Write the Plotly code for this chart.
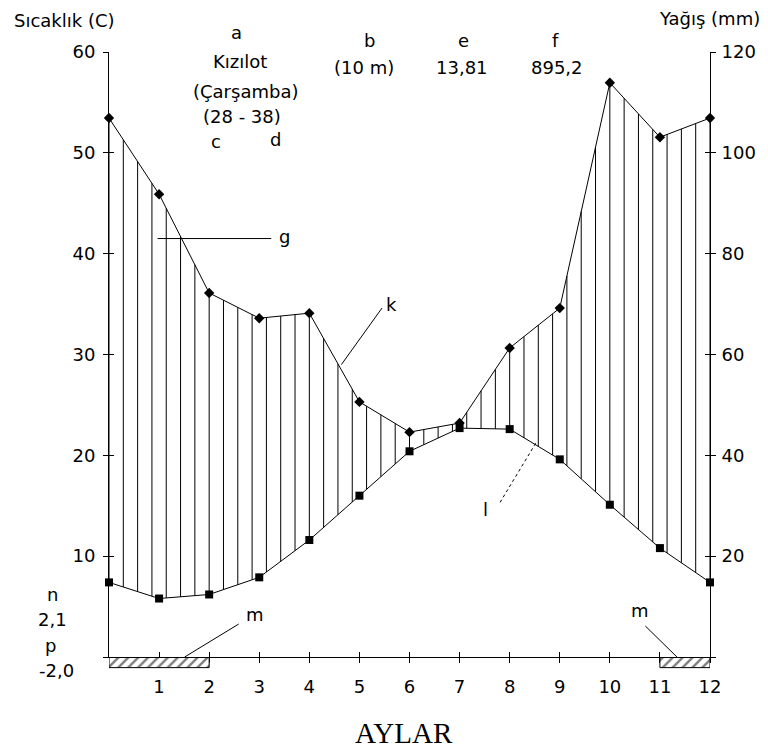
import numpy as np
import plotly.graph_objects as go

# ---------------- data ----------------
months = list(range(1, 13))
month_labels = [str(m) for m in months]
temperature = [5.8, 6.2, 7.9, 11.6, 16.0, 20.4, 22.7, 22.6, 19.6, 15.1, 10.8, 7.4]        # deg C
precipitation = [91.8, 72.2, 67.2, 68.2, 50.6, 44.6, 46.4, 61.3, 69.2, 113.9, 103.1, 106.9]  # mm
frost_months = [1, 2, 12]
temp_ticks = [0, 10, 20, 30, 40, 50, 60]
temp_tick_labels = ["", "10", "20", "30", "40", "50", "60"]
precip_ticks = [0, 20, 40, 60, 80, 100, 120]
precip_tick_labels = ["", "20", "40", "60", "80", "100", "120"]
MM_PER_DEG = 2  # Walter-Lieth scale ratio

FONT = "DejaVu Sans"
FS = 18

# the diagram starts with December's value at position 0
x_closed = [0] + months
t_closed = [temperature[-1]] + temperature
p_closed = [precipitation[-1]] + precipitation

# vertical hatching of the humid period (in mm units on right axis)
xs = np.linspace(0, 12, 43)
lower = np.interp(xs, x_closed, np.array(t_closed) * MM_PER_DEG)
upper = np.interp(xs, x_closed, p_closed)
hx, hy = [], []
for xv, lo, up in zip(xs, lower, upper):
    if up > lo:
        hx += [xv, xv, None]
        hy += [lo, up, None]

# contiguous frost runs -> one hatched box per run
runs = []
for m in sorted(frost_months):
    if runs and m == runs[-1][1] + 1:
        runs[-1][1] = m
    else:
        runs.append([m, m])
run_centers = [(a - 1 + b) / 2 for a, b in runs]
run_widths = [b - a + 1 for a, b in runs]

fig = go.Figure()

fig.add_trace(go.Scatter(x=hx, y=hy, mode="lines", yaxis="y2",
                         line=dict(color="black", width=1), hoverinfo="skip"))
fig.add_trace(go.Scatter(x=x_closed, y=p_closed, mode="lines+markers", yaxis="y2",
                         line=dict(color="black", width=1), cliponaxis=False,
                         marker=dict(symbol="diamond", size=8, color="black")))
fig.add_trace(go.Scatter(x=x_closed, y=t_closed, mode="lines+markers", yaxis="y",
                         line=dict(color="black", width=1), cliponaxis=False,
                         marker=dict(symbol="square", size=8, color="black")))
# frost months strip
fig.add_trace(go.Bar(x=run_centers, y=[-1.1] * len(runs), width=run_widths, yaxis="y5",
                     marker=dict(color="white", line=dict(color="black", width=1),
                                 pattern=dict(shape="/", fgcolor="black", bgcolor="white",
                                              size=7, solidity=0.35))))
# carriers for the inner halves of the ticks
fig.add_trace(go.Scatter(x=[0], y=[0], xaxis="x2", yaxis="y", mode="lines",
                         line=dict(width=0), hoverinfo="skip"))
fig.add_trace(go.Scatter(x=[0], y=[0], yaxis="y3", mode="lines",
                         line=dict(width=0), hoverinfo="skip"))
fig.add_trace(go.Scatter(x=[0], y=[0], yaxis="y4", mode="lines",
                         line=dict(width=0), hoverinfo="skip"))

OFF = 8  # page body margin
W, H = 768 - OFF, 755 - OFF
L, T = 109 - OFF, 52 - OFF
R = W - (712 - OFF)
B = H - (669 - OFF)
PW, PH = W - L - R, H - T - B
d = 12 / PH

tick_common = dict(tickwidth=1, tickcolor="black", ticklen=5, showgrid=False,
                   zeroline=False, tickfont=dict(family=FONT, size=FS, color="black"))

fig.update_layout(
    width=W, height=H,
    margin=dict(l=L, r=R, t=T, b=B, pad=0),
    paper_bgcolor="white", plot_bgcolor="white", showlegend=False,
    font=dict(family=FONT, size=FS, color="black"),
    xaxis=dict(domain=[0, 1], range=[0, 12], anchor="y", tickvals=months, ticktext=month_labels,
               ticks="outside", showline=True, linecolor="black", linewidth=1,
               ticklabelstandoff=8, **tick_common),
    xaxis2=dict(overlaying="x", anchor="y", range=[0, 12], tickvals=months, ticks="inside",
                showticklabels=False, showline=False, **tick_common),
    yaxis=dict(domain=[d, 1], range=[0, 60], anchor="x", tickvals=temp_ticks,
               ticktext=temp_tick_labels, ticks="outside", showline=True,
               linecolor="black", linewidth=1, ticklabelstandoff=4, **tick_common),
    yaxis3=dict(overlaying="y", side="left", anchor="x", range=[0, 60], tickvals=temp_ticks,
                ticks="inside", showticklabels=False, showline=False, **tick_common),
    yaxis2=dict(overlaying="y", side="right", anchor="x", range=[0, 120], tickvals=precip_ticks,
                ticktext=precip_tick_labels, ticks="outside", showline=True,
                linecolor="black", linewidth=1, ticklabelstandoff=2, **tick_common),
    yaxis4=dict(overlaying="y", side="right", anchor="x", range=[0, 120], tickvals=precip_ticks,
                ticks="inside", showticklabels=False, showline=False, **tick_common),
    yaxis5=dict(domain=[0, d], range=[-1.25, 0.05], anchor="x", visible=False),
)


def px(xp):
    return (xp - OFF - L) / PW


def py(yp):
    return (H - B - (yp - OFF)) / PH


def note(text, xp, yp, xanchor="center", size=FS, family=FONT):
    fig.add_annotation(text=text, x=px(xp), y=py(yp), xref="paper", yref="paper",
                       showarrow=False, xanchor=xanchor, yanchor="middle",
                       font=dict(family=family, size=size, color="black"))


note("Sıcaklık (C)", 12, 20, xanchor="left")
note("Yağış (mm)", 764, 18, xanchor="right")
note("a", 237, 32)
note("Kızılot", 240, 61)
note("(Çarşamba)", 246, 91)
note("(28 - 38)", 242, 117)
note("c", 216, 141)
note("d", 276, 140)
note("b", 370, 40)
note("(10 m)", 365, 68)
note("e", 465, 40)
note("13,81", 463, 68)
note("f", 557, 40)
note("895,2", 558, 68)
note("n", 52, 594)
note("2,1", 52, 619)
note("p", 50, 645)
note("-2,0", 56, 670)
note("AYLAR", 405, 733, size=29, family="Liberation Serif")

# callouts in data coordinates (months, deg C)
callouts = [
    ("g", 3.50, 41.7, (0.97, 41.5), (3.24, 41.5), "solid"),
    ("k", 5.65, 35.0, (4.64, 29.0), (5.45, 34.6), "solid"),
    ("l", 7.52, 14.6, (8.52, 21.2), (7.78, 15.1), "dot"),
    ("m", 2.91, 4.2, (2.59, 3.27), (1.51, 0.0), "solid"),
    ("m", 10.61, 4.6, (10.71, 3.07), (11.34, 0.0), "solid"),
]
for txt, tx, ty, p0, p1, dash in callouts:
    fig.add_annotation(text=txt, x=tx, y=ty, xref="x", yref="y", showarrow=False,
                       font=dict(family=FONT, size=FS, color="black"))
    fig.add_shape(type="line", xref="x", yref="y", x0=p0[0], y0=p0[1], x1=p1[0], y1=p1[1],
                  line=dict(color="black", width=1, dash=dash))

fig.write_html("out.html")
